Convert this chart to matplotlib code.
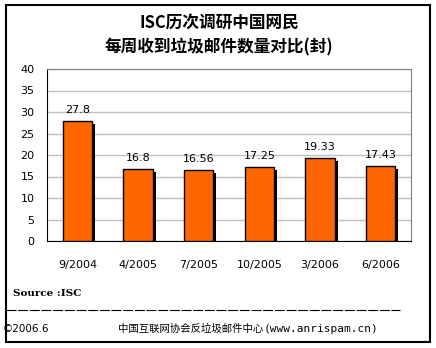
import numpy as np
import matplotlib.pyplot as plt
import matplotlib.transforms as mtransforms
from matplotlib.patches import Rectangle
from matplotlib.lines import Line2D

plt.rcParams['font.family'] = ['DejaVu Sans', 'Noto Sans CJK SC']

dates = ["9/2004", "4/2005", "7/2005", "10/2005", "3/2006", "6/2006"]
counts = [27.8, 16.8, 16.56, 17.25, 19.33, 17.43]
count_labels = ["27.8", "16.8", "16.56", "17.25", "19.33", "17.43"]

title = "ISC历次调研中国网民\n每周收到垃圾邮件数量对比(封)"
source = "Source :ISC"
footer_left = "©2006.6"
footer_org = "中国互联网协会反垃圾邮件中心"
footer_url = "(www.anrispam.cn)"

fig = plt.figure(figsize=(4.36, 3.48), dpi=100)
ax = fig.add_axes([47 / 436, 107 / 348, 364 / 436, 172 / 348])

x = np.arange(len(dates))
bar_w = 0.48

# shadow: same bars shifted 3px right / 3px down
shadow = mtransforms.offset_copy(ax.transData, fig=fig, x=3, y=-3, units='dots')
ax.bar(x, counts, width=bar_w, color='black', transform=shadow, zorder=2)
ax.bar(x, counts, width=bar_w, color='#FF6600', edgecolor='black', linewidth=1, zorder=3)

for xi, v, lab in zip(x, counts, count_labels):
    ax.annotate(lab, (xi, v), xytext=(0, 4.5), textcoords='offset points',
                ha='center', va='bottom', fontsize=8)

ax.set_xlim(-0.5, len(dates) - 0.5)
ax.set_ylim(0, 40)
ax.set_yticks(range(0, 41, 5))
ax.set_xticks(x)
ax.set_xticklabels(dates)
ax.tick_params(axis='both', length=0, labelsize=8)
ax.tick_params(axis='y', pad=9)
ax.tick_params(axis='x', pad=14)
ax.yaxis.grid(True, color='#C0C0C0', linewidth=1)
ax.set_axisbelow(True)
ax.spines['top'].set_color('#808080')
ax.spines['right'].set_color('#808080')
ax.spines['left'].set_color('black')
ax.spines['bottom'].set_color('black')

# outer frame
fig.patches.append(Rectangle((5.5 / 436, 6 / 348), 424.5 / 436, 337 / 348,
                             transform=fig.transFigure, fill=False,
                             edgecolor='black', linewidth=1.5))

fig.text(219 / 436, 1 - 35 / 348, title, ha='center', va='center',
         fontsize=12, fontweight='bold', linespacing=1.45,
         family=['Noto Sans CJK SC'])

fig.text(13 / 436, 1 - 294 / 348, source, ha='left', va='center',
         fontsize=7.5, fontweight='bold', family=['DejaVu Serif'])
fig.lines.append(Line2D([6 / 436, 400 / 436], [1 - 310 / 348, 1 - 310 / 348],
                        transform=fig.transFigure, color='black',
                        linewidth=0.8, linestyle=(0, (9, 1.5))))
fig.text(3 / 436, 1 - 329 / 348, footer_left, ha='left', va='center', fontsize=7.5)
fig.text(118 / 436, 1 - 329 / 348, footer_org, ha='left', va='center', fontsize=7.5,
         family=['Noto Sans CJK SC'])
fig.text(264 / 436, 1 - 329 / 348, footer_url, ha='left', va='center', fontsize=8,
         family=['DejaVu Sans Mono'])

fig.savefig("out.png", dpi=100)
